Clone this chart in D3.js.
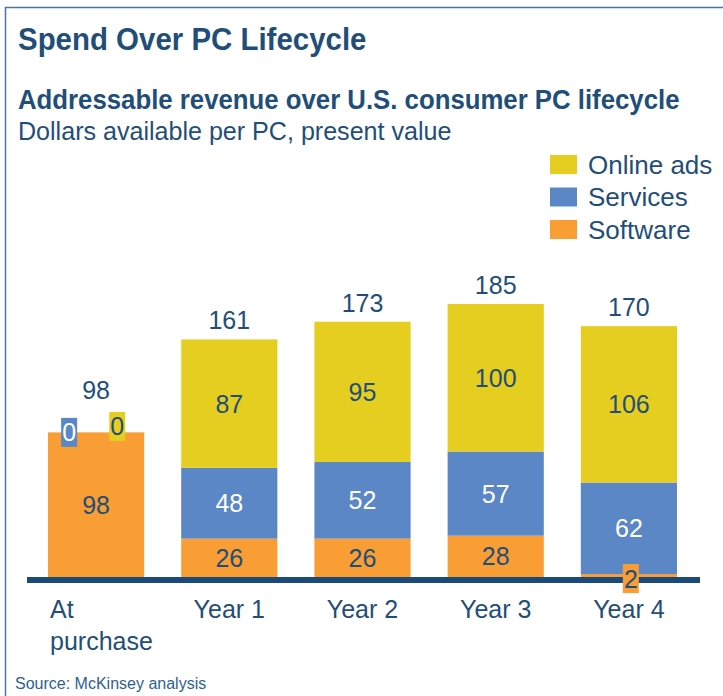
<!DOCTYPE html>
<html>
<head>
<meta charset="utf-8">
<script src="https://cdn.jsdelivr.net/npm/d3@7"></script>
<style>
  body { margin: 0; background: #fff; }
  svg text { fill: #1f4e79; }
</style>
</head>
<body>
<div id="chart"></div>
<script>
// data
var categories = ['At purchase', 'Year 1', 'Year 2', 'Year 3', 'Year 4'];
var software  = [98, 26, 26, 28, 2];
var services  = [0, 48, 52, 57, 62];
var onlineAds = [0, 87, 95, 100, 106];
var totals    = [98, 161, 173, 185, 170];
var seriesNames = ['Software', 'Services', 'Online ads'];

var width = 723, height = 696;
var colors = { 'Software': '#f99d35', 'Services': '#5b87c6', 'Online ads': '#e5ce1f' };
var labelColor = { 'Software': '#1f4e79', 'Services': '#ffffff', 'Online ads': '#1f4e79' };

var svg = d3.select('#chart').append('svg')
    .attr('width', width)
    .attr('height', height);

// frame
svg.append('path')
    .attr('d', 'M5.5,696 L5.5,7.5 L723,7.5')
    .attr('fill', 'none')
    .attr('stroke', '#4a76a6')
    .attr('stroke-width', 1.5);

// headings use a condensed face, squeeze Arial-ish glyphs a bit
var narrow = '"Liberation Sans Narrow", "Arial Narrow", "Liberation Sans", Arial, sans-serif';
svg.append('text').attr('transform', 'translate(18,50) scale(0.95,1)')
    .style('font-family', narrow)
    .style('font-weight', 'bold').style('font-size', '31px')
    .text('Spend Over PC Lifecycle');
svg.append('text').attr('transform', 'translate(18,109) scale(0.955,1)')
    .style('font-family', narrow)
    .style('font-weight', 'bold').style('font-size', '27px')
    .text('Addressable revenue over U.S. consumer PC lifecycle');
svg.append('text').attr('transform', 'translate(18,140) scale(0.965,1)')
    .style('font-family', narrow)
    .style('font-size', '26px')
    .text('Dollars available per PC, present value');

var x = d3.scaleBand()
    .domain(categories)
    .range([48, 677])
    .paddingInner(0.278)
    .paddingOuter(0);

var y = d3.scaleLinear()
    .domain([0, 185])
    .range([577, 304]);

var rows = categories.map(function(c, i) {
    return { cat: c, 'Software': software[i], 'Services': services[i], 'Online ads': onlineAds[i], total: totals[i] };
});
var stacked = d3.stack().keys(seriesNames)(rows);

var font = '"Liberation Sans", Arial, sans-serif';

var layer = svg.selectAll('g.layer')
    .data(stacked)
    .enter().append('g')
    .attr('class', 'layer')
    .attr('fill', d => colors[d.key]);

layer.selectAll('rect')
    .data(d => d.map(p => ({ key: d.key, p: p })))
    .enter().append('rect')
    .attr('x', d => x(d.p.data.cat))
    .attr('y', d => y(d.p[1]))
    .attr('width', x.bandwidth())
    .attr('height', d => y(d.p[0]) - y(d.p[1]));

// baseline
svg.append('rect')
    .attr('x', 27).attr('y', y(0))
    .attr('width', 673).attr('height', 6)
    .attr('fill', '#1a4a7a');

// segment labels
var segs = [];
stacked.forEach(function(s) {
    s.forEach(function(p) { segs.push({ key: s.key, p: p, v: p[1] - p[0] }); });
});

var big = segs.filter(d => y(d.p[0]) - y(d.p[1]) > 30);
svg.selectAll('text.seg')
    .data(big)
    .enter().append('text')
    .attr('class', 'seg')
    .attr('x', d => x(d.p.data.cat) + x.bandwidth() / 2)
    .attr('y', d => (y(d.p[0]) + y(d.p[1])) / 2)
    .attr('dy', '0.36em')
    .attr('text-anchor', 'middle')
    .style('font-family', font).style('font-size', '25px')
    .style('fill', d => labelColor[d.key])
    .text(d => d.v);

// small segments get a little coloured tag
var small = segs.filter(d => y(d.p[0]) - y(d.p[1]) <= 30);
var tagX = { 'Software': 0.52, 'Services': 0.22, 'Online ads': 0.72 };
var tagDy = { 'Software': 3, 'Services': 0, 'Online ads': -6 };
var tags = svg.selectAll('g.tag')
    .data(small)
    .enter().append('g')
    .attr('class', 'tag')
    .attr('transform', d => 'translate(' + (x(d.p.data.cat) + x.bandwidth() * tagX[d.key]) + ',' + ((y(d.p[0]) + y(d.p[1])) / 2 + tagDy[d.key]) + ')');
tags.append('rect')
    .attr('x', -8).attr('y', -14.5)
    .attr('width', 16).attr('height', 29)
    .attr('fill', d => colors[d.key]);
tags.append('text')
    .attr('text-anchor', 'middle')
    .attr('dy', '0.36em')
    .style('font-family', font).style('font-size', '25px')
    .style('fill', d => labelColor[d.key])
    .text(d => d.v);

// totals
svg.selectAll('text.total')
    .data(rows)
    .enter().append('text')
    .attr('class', 'total')
    .attr('x', d => x(d.cat) + x.bandwidth() / 2)
    .attr('y', d => y(d.total) - (d['Services'] === 0 ? 33 : 10))
    .attr('text-anchor', 'middle')
    .style('font-family', font).style('font-size', '25px')
    .text(d => d.total);

// category labels
var xAxis = svg.append('g').attr('class', 'xlabels');
categories.forEach(function(c) {
    var words = c === 'At purchase' ? ['At', 'purchase'] : [c];
    var t = xAxis.append('text')
        .attr('x', words.length > 1 ? x(c) + 2 : x(c) + x.bandwidth() / 2)
        .attr('y', 618)
        .attr('text-anchor', words.length > 1 ? 'start' : 'middle')
        .style('font-family', font).style('font-size', '25px');
    words.forEach(function(w, i) {
        t.append('tspan').attr('x', t.attr('x')).attr('dy', i ? 32 : 0).text(w);
    });
});

// legend
var legendItems = ['Online ads', 'Services', 'Software'];
var legend = svg.selectAll('g.legend')
    .data(legendItems)
    .enter().append('g')
    .attr('class', 'legend')
    .attr('transform', (d, i) => 'translate(550,' + (155 + i * 32.5) + ')');
legend.append('rect')
    .attr('width', 27).attr('height', 19)
    .attr('fill', d => colors[d]);
legend.append('text')
    .attr('x', 38).attr('y', 9.5).attr('dy', '0.36em')
    .style('font-family', font).style('font-size', '26px')
    .text(d => d);

svg.append('text').attr('x', 15).attr('y', 689)
    .style('font-family', font).style('font-size', '16px')
    .style('fill', '#2f5f90')
    .text('Source:  McKinsey analysis');
</script>
</body>
</html>
